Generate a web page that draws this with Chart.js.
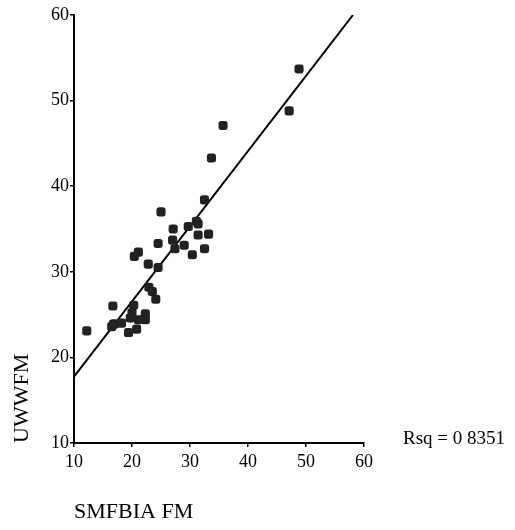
<!DOCTYPE html>
<html>
<head>
<meta charset="utf-8">
<script src="https://cdn.jsdelivr.net/npm/chart.js@4/dist/chart.umd.min.js"></script>
<style>
  html, body { margin: 0; padding: 0; background: #fff; }
  #wrap { width: 515px; height: 530px; position: relative; }
</style>
</head>
<body>
<div id="wrap"><canvas id="c" width="515" height="530"></canvas></div>
<script>
// SMFBIA FM (x) and UWWFM (y) observations
const smfbiaFM = [12.2, 16.7, 16.5, 17.0, 16.8, 18.2, 19.4, 19.7, 20.0, 20.3, 20.8, 21.1, 22.3, 22.3,
                  22.9, 23.5, 24.1, 22.8, 24.5, 20.4, 21.1, 24.5, 25.0, 27.0, 27.4, 27.1, 29.0, 29.7,
                  30.4, 31.1, 31.4, 31.4, 33.2, 32.5, 32.5, 33.7, 35.7, 47.1, 48.8];
const uwwFM    = [23.1, 26.0, 23.6, 23.9, 23.9, 24.0, 22.9, 24.6, 25.2, 26.1, 23.3, 24.4, 25.1, 24.4,
                  28.2, 27.7, 26.8, 30.9, 30.5, 31.8, 32.3, 33.3, 37.0, 33.7, 32.7, 35.0, 33.1, 35.3,
                  32.0, 35.9, 35.6, 34.3, 34.4, 32.7, 38.4, 43.3, 47.1, 48.8, 53.7];
// Fitted regression line end points
const fitX = [10, 58.1];
const fitY = [17.75, 60];
// Axis ticks
const xTicks = [10, 20, 30, 40, 50, 60];
const yTicks = [10, 20, 30, 40, 50, 60];
const rsqText = 'Rsq = 0 8351';
const xTitle = 'SMFBIA FM';
const yTitle = 'UWWFM';

const serif = '"Liberation Serif", "Times New Roman", serif';

const rsqPlugin = {
  id: 'rsq',
  afterDraw(chart) {
    const ctx = chart.ctx;
    const a = chart.chartArea;
    ctx.save();
    ctx.font = '19px ' + serif;
    ctx.fillStyle = '#000';
    ctx.textAlign = 'left';
    ctx.textBaseline = 'middle';
    ctx.fillText(rsqText, a.right + 39, a.bottom - 4);
    ctx.restore();
  }
};

const scaleCommon = (ticks, title, isY) => ({
  type: 'linear',
  min: ticks[0],
  max: ticks[ticks.length - 1],
  afterBuildTicks(s) { s.ticks = ticks.map(v => ({ value: v })); },
  ticks: {
    color: '#000',
    font: { family: serif, size: 18 },
    padding: isY ? 1 : 4
  },
  grid: {
    display: true,
    drawOnChartArea: false,
    drawTicks: true,
    tickLength: 4,
    color: '#000',
    lineWidth: 1.5
  },
  border: { display: true, color: '#000', width: 2 },
  title: {
    display: true,
    text: title,
    align: 'start',
    color: '#000',
    font: { family: serif, size: 22 },
    padding: isY ? { top: 9, bottom: 0 } : { top: 0, bottom: 5 }
  },
  afterFit(s) {
    if (isY) s.width = 74; else s.height = 87;
  }
});

new Chart(document.getElementById('c'), {
  type: 'scatter',
  data: {
    datasets: [
      {
        type: 'scatter',
        data: smfbiaFM.map((x, i) => ({ x: x, y: uwwFM[i] })),
        pointStyle: 'rectRounded',
        pointRadius: 5.3,
        backgroundColor: '#222222',
        borderColor: '#222222',
        borderWidth: 0,
        order: 1
      },
      {
        type: 'line',
        data: fitX.map((x, i) => ({ x: x, y: fitY[i] })),
        borderColor: '#000',
        borderWidth: 2,
        pointRadius: 0,
        fill: false,
        order: 2
      }
    ]
  },
  options: {
    responsive: false,
    animation: false,
    devicePixelRatio: 1,
    layout: { padding: { top: 15, right: 151, left: 0, bottom: 0 } },
    plugins: {
      legend: { display: false },
      tooltip: { enabled: false }
    },
    scales: {
      x: scaleCommon(xTicks, xTitle, false),
      y: scaleCommon(yTicks, yTitle, true)
    }
  },
  plugins: [rsqPlugin]
});
</script>
</body>
</html>
